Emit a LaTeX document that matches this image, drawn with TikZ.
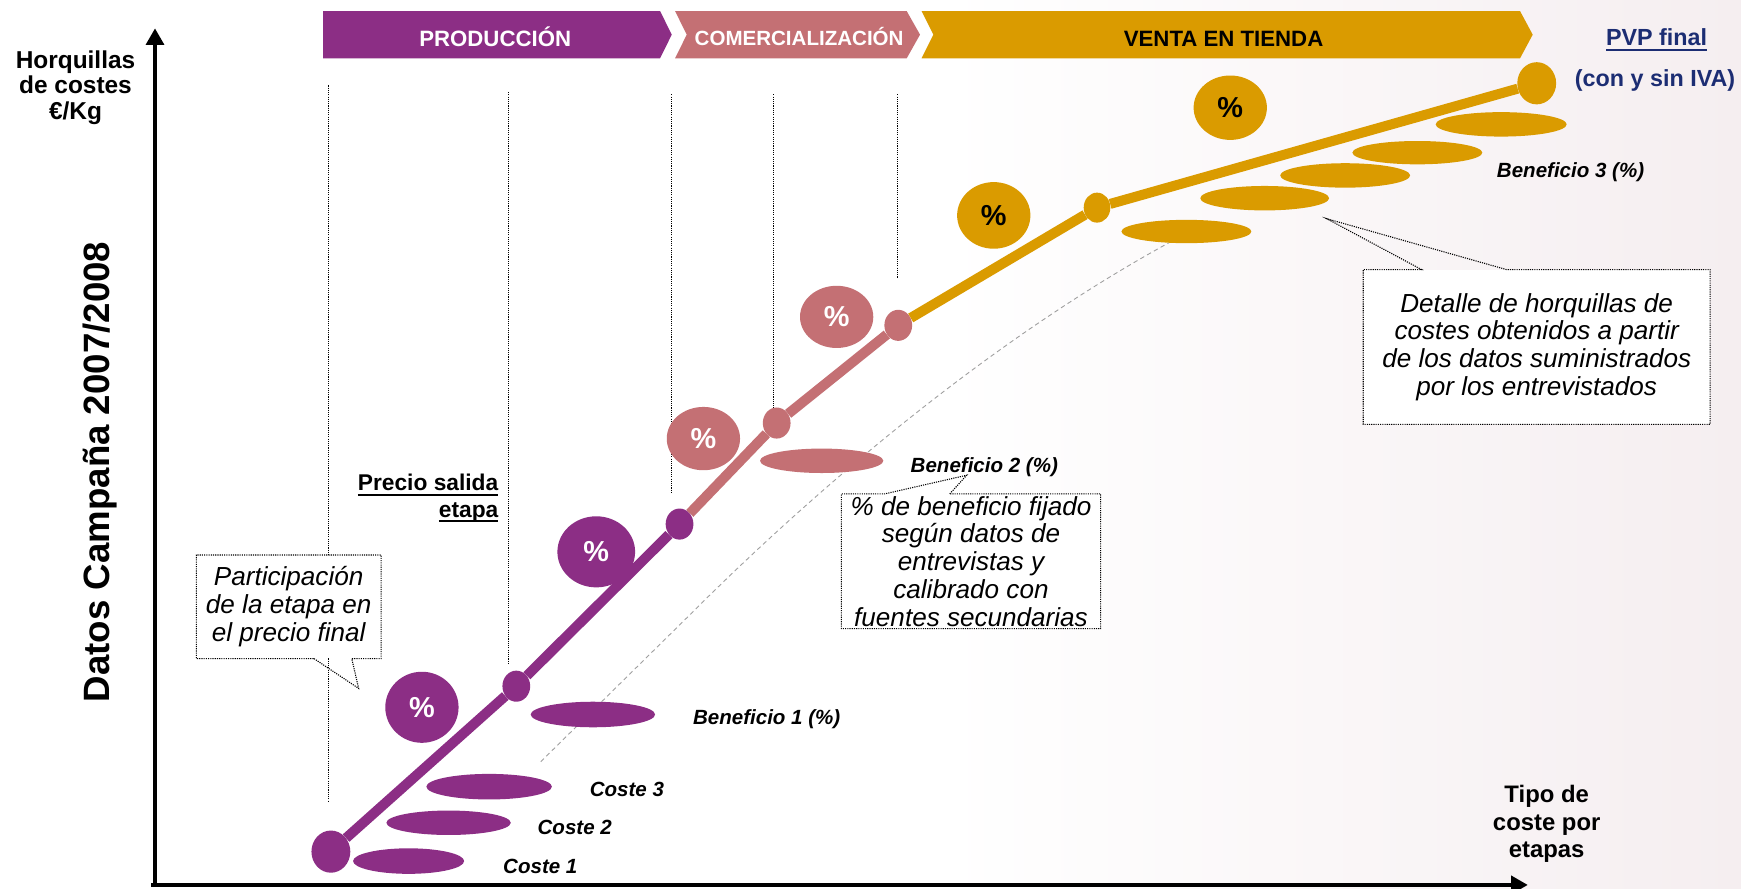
\documentclass[tikz,border=0pt]{standalone}
\usepackage{fontspec}
\setmainfont{Liberation Sans}
\usetikzlibrary{shapes.geometric,arrows.meta,calc}
\definecolor{cprod}{RGB}{140,46,133}
\definecolor{ccom}{RGB}{196,112,116}
\definecolor{cvent}{RGB}{218,155,0}
\definecolor{cnavy}{RGB}{28,45,115}
\definecolor{bgtint}{RGB}{245,238,240}
\newcommand\thickul[1]{\setbox0\hbox{#1}\rlap{\rule[-4.5pt]{\wd0}{1.8pt}}\box0}
\begin{document}
\begin{tikzpicture}[x=1pt,y=-1pt,
  chev/.style={inner sep=0, font=\bfseries\fontsize{20}{24}\selectfont, anchor=base},
  pct/.style={ellipse, inner sep=0, font=\bfseries\fontsize{26}{30}\selectfont},
  bar/.style={ellipse, inner sep=0},
  dotnode/.style={ellipse, inner sep=0, minimum width=25pt, minimum height=28pt},
  bigdot/.style={ellipse, inner sep=0, minimum width=35pt, minimum height=38pt},
  seg/.style={line width=9pt},
  lbl/.style={anchor=base west, inner sep=0, font=\bfseries\itshape\fontsize{18.5}{21}\selectfont},
  guide/.style={densely dotted, line width=1pt, black},
  callout/.style={densely dotted, line width=1pt},
  ctext/.style={inner sep=0, align=center, fill=white, font=\itshape\fontsize{23.5}{25}\selectfont},
  axis/.style={line width=3.6pt, -{Triangle[width=16pt,length=15pt]}},
  trend/.style={dash pattern=on 4pt off 3pt, gray!75, line width=0.8pt},
  sidelbl/.style={inner sep=0, align=center, font=\bfseries\fontsize{21}{24}\selectfont}
]
\useasboundingbox (0,0) rectangle (1568,800);
\fill[white] (0,0) rectangle (1568,800);
\shade[left color=white, right color=bgtint] (850,0) rectangle (1568,800);

% chevrons
\fill[cprod] (291,10) -- (594.5,10) -- (605,31.2) -- (594.5,52.5) -- (291,52.5) -- cycle;
\fill[ccom] (608,10) -- (816.6,10) -- (828.6,31.2) -- (816.6,52.5) -- (608,52.5) -- (618.5,31.2) -- cycle;
\fill[cvent] (830,10) -- (1369,10) -- (1380.4,31.2) -- (1369,52.5) -- (830,52.5) -- (840.6,31.2) -- cycle;
\node[chev, text=white] (prod) at (446,41.7) {PRODUCCIÓN};
\node[chev, text=white, font=\bfseries\fontsize{18.5}{22}\selectfont] (com) at (719.7,41.1) {COMERCIALIZACIÓN};
\node[chev, text=black] (vent) at (1102,41.7) {VENTA EN TIENDA};

% guides
\foreach \x/\a/\b in {295.7/77/722, 458/83/598, 605/85/444, 696.5/85/368, 808.5/85/251}
  \draw[guide] (\x,\a) -- (\x,\b);

% trend
\coordinate (t0) at (487,686);
\coordinate (t1) at (620,555);
\coordinate (t2) at (1065,212);
\draw[trend] (t0) -- (t1) .. controls (740,435) and (900,300) .. (t2);

% axes
\coordinate (ybot) at (139.6,799);
\coordinate (ytip) at (139.6,25.5);
\coordinate (xleft) at (136,797);
\coordinate (xtip) at (1376,797);
\draw[axis] (ybot) -- (ytip);
\draw[axis] (xleft) -- (xtip);

% bars
\node[bar, fill=cprod, minimum width=100pt, minimum height=23pt] (b1) at (368,775.5) {};
\node[bar, fill=cprod, minimum width=112pt, minimum height=22pt] (b2) at (404,741) {};
\node[bar, fill=cprod, minimum width=113pt, minimum height=23pt] (b3) at (440.5,708.5) {};
\node[bar, fill=cprod, minimum width=112pt, minimum height=23pt] (b4) at (534,643.5) {};
\node[bar, fill=ccom, minimum width=111pt, minimum height=22pt] (b5) at (740,415) {};
\node[bar, fill=cvent, minimum width=117pt, minimum height=21pt] (g1) at (1068.5,208.5) {};
\node[bar, fill=cvent, minimum width=116pt, minimum height=22pt] (g2) at (1139,178.5) {};
\node[bar, fill=cvent, minimum width=117pt, minimum height=22pt] (g3) at (1211.5,158) {};
\node[bar, fill=cvent, minimum width=117pt, minimum height=21pt] (g4) at (1276.5,137.5) {};
\node[bar, fill=cvent, minimum width=118pt, minimum height=22pt] (g5) at (1352,112) {};

% polyline points
\node[bigdot, fill=cprod] (p0) at (298,767) {};
\node[dotnode, fill=cprod] (p1) at (465,618) {};
\node[dotnode, fill=cprod] (p2) at (612,472) {};
\node[dotnode, fill=ccom] (p3) at (699.5,381) {};
\node[dotnode, fill=ccom] (p4) at (809,293) {};
\node[dotnode, fill=cvent, minimum width=24pt, minimum height=27pt] (p5) at (988,187) {};
\node[bigdot, fill=cvent] (p6) at (1384,75) {};
\draw[seg, cprod] (p0) -- (p1);
\draw[seg, cprod] (p1) -- (p2);
\draw[seg, ccom] (p2) -- (p3);
\draw[seg, ccom] (p3) -- (p4);
\draw[seg, cvent] (p4) -- (p5);
\draw[seg, cvent] (p5) -- (p6);

% percent ellipses
\node[pct, fill=cprod, text=white, minimum width=66pt, minimum height=64pt] (pa) at (380,637) {\%};
\node[pct, fill=cprod, text=white, minimum width=70pt, minimum height=64pt] (pb) at (537,497) {\%};
\node[pct, fill=ccom, text=white, minimum width=66pt, minimum height=57pt] (pc) at (633.5,395) {\%};
\node[pct, fill=ccom, text=white, minimum width=66pt, minimum height=56pt] (pd) at (753.5,285.4) {\%};
\node[pct, fill=cvent, text=black, minimum width=66pt, minimum height=60pt] (pe) at (895,194) {\%};
\node[pct, fill=cvent, text=black, minimum width=66pt, minimum height=58pt] (pf) at (1108,97) {\%};

% labels
\node[lbl] (l1) at (453,786.5) {Coste 1};
\node[lbl] (l2) at (484,751.5) {Coste 2};
\node[lbl] (l3) at (531,717.5) {Coste 3};
\node[lbl] (l4) at (624,652.5) {Beneficio 1 (\%)};
\node[lbl] (l5) at (820,425.5) {Beneficio 2 (\%)};
\node[lbl] (l6) at (1348,159.5) {Beneficio 3 (\%)};

% callouts
\node[ctext, minimum width=166pt, minimum height=93pt] (c1) at (260,546.5) {Participación\\de la etapa en\\el precio final};
\coordinate (c1tip) at (323,620);
\draw[callout] ([xshift=106pt]c1.south west) -- (c1tip) -- ([xshift=140pt]c1.south west) -- (c1.south east) -- (c1.north east) -- (c1.north west) -- (c1.south west) -- cycle;

\node[ctext, minimum width=233pt, minimum height=121pt] (c2) at (874.5,505.5) {\% de beneficio fijado\\según datos de\\entrevistas y\\calibrado con\\fuentes secundarias};
\coordinate (c2tip) at (870.6,428);
\draw[callout] ([xshift=97.6pt]c2.north west) -- (c2tip) -- ([xshift=39pt]c2.north west) -- (c2.north west) -- (c2.south west) -- (c2.south east) -- (c2.north east) -- cycle;

\node[ctext, minimum width=312pt, minimum height=139pt] (c3) at (1384,312.5) {Detalle de horquillas de\\costes obtenidos a partir\\de los datos suministrados\\por los entrevistados};
\coordinate (c3tip) at (1195,197);
\draw[callout] ([xshift=129pt]c3.north west) -- (c3tip) -- ([xshift=52.5pt]c3.north west) -- (c3.north west) -- (c3.south west) -- (c3.south east) -- (c3.north east) -- cycle;

% side texts
\node[sidelbl, font=\bfseries\fontsize{22}{23.3}\selectfont] (ylab) at (68,79) {Horquillas\\de costes\\€/Kg};
\node[rotate=90, inner sep=0, font=\bfseries\fontsize{33}{40}\selectfont] (datos) at (90.3,425) {Datos Campaña 2007/2008};
\node[sidelbl, font=\bfseries\fontsize{21.5}{25}\selectfont] (xlab) at (1393,742) {Tipo de\\coste por\\etapas};
\node[inner sep=0, align=right, anchor=north east, font=\bfseries\fontsize{20.5}{24}\selectfont] (precio) at (449,427) {\thickul{Precio salida}\\\thickul{etapa}};
\node[inner sep=0, anchor=base, text=cnavy, font=\bfseries\fontsize{21}{25}\selectfont] (pvp) at (1492,41) {\thickul{PVP final}};
\node[inner sep=0, anchor=base, text=cnavy, font=\bfseries\fontsize{21}{25}\selectfont] (iva) at (1490.6,78) {(con y sin IVA)};
\end{tikzpicture}
\end{document}
